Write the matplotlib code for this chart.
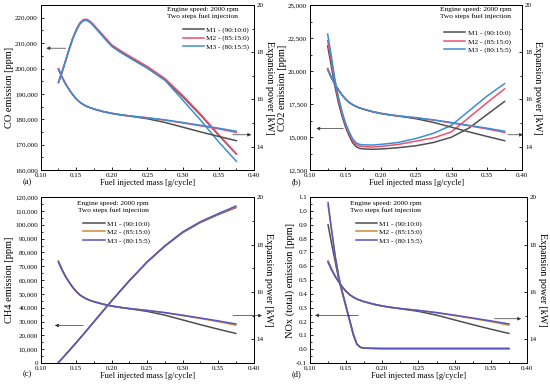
#!/usr/bin/env python3
# Emissions and expansion power vs fuel injected mass, 2000 rpm, two-step injection

import matplotlib
matplotlib.use('Agg')
import matplotlib.pyplot as plt
from matplotlib.ticker import MultipleLocator, FuncFormatter

plt.rcParams['font.family'] = ['Liberation Serif', 'DejaVu Serif']

FUEL_MASS = [0.125, 0.13, 0.135, 0.14, 0.145, 0.15, 0.155, 0.16, 0.165,
             0.17, 0.175, 0.1875, 0.2, 0.2125, 0.225, 0.25, 0.275, 0.3,
             0.325, 0.35, 0.375]

LABELS = ['M1 - (90:10:0)', 'M2 - (85:15:0)', 'M3 - (80:15:5)']
NOTE = 'Engine speed: 2000 rpm\nTwo steps fuel injection'

# expansion power [kW], same engine in every panel
POWER_M1 = [17.3, 16.95, 16.66, 16.42, 16.2, 16.02, 15.88, 15.78, 15.7,
            15.64, 15.59, 15.48, 15.4, 15.34, 15.29, 15.18, 15.02, 14.82,
            14.62, 14.43, 14.25]
POWER_M2 = [17.3, 16.95, 16.66, 16.42, 16.2, 16.02, 15.88, 15.78, 15.7,
            15.64, 15.59, 15.49, 15.41, 15.35, 15.3, 15.22, 15.12, 15.0,
            14.88, 14.75, 14.6]
POWER_M3 = [17.25, 16.92, 16.64, 16.41, 16.2, 16.02, 15.88, 15.78, 15.7,
            15.64, 15.59, 15.49, 15.41, 15.35, 15.3, 15.22, 15.13, 15.02,
            14.9, 14.78, 14.65]

# CO emission [ppm]
CO_M1 = [194500, 198500, 203000, 207500, 211700, 215000, 217600, 218900,
         219000, 218100, 216700, 212700, 208800, 206500, 204400, 200300,
         195600, 188800, 181600, 173800, 166300]
CO_M2 = [194500, 198600, 203200, 207800, 212000, 215400, 218000, 219300,
         219400, 218500, 217100, 213200, 209300, 207000, 204900, 200800,
         196000, 189300, 182000, 174100, 166500]
CO_M3 = [194800, 198700, 203100, 207500, 211700, 215000, 217600, 218900,
         219000, 218100, 216600, 212600, 208700, 206300, 204200, 200100,
         195300, 187500, 179600, 171200, 163500]

# CO2 emission [ppm]
CO2_M1 = [21900, 20400, 18900, 17650, 16650, 15800, 15150, 14600, 14280,
          14150, 14110, 14080, 14100, 14150, 14200, 14350, 14600, 15000,
          15700, 16700, 17700]
CO2_M2 = [22300, 20800, 19200, 17900, 16850, 15950, 15300, 14780, 14450,
          14320, 14290, 14250, 14300, 14370, 14450, 14700, 14950, 15400,
          16500, 17600, 18650]
CO2_M3 = [22800, 21200, 19450, 18100, 17000, 16100, 15450, 14900, 14580,
          14450, 14420, 14400, 14450, 14520, 14600, 14900, 15300, 15900,
          17000, 18100, 19050]

# CH4 emission [ppm]
CH4_M1 = [500, 3200, 6000, 8900, 11800, 14700, 17700, 20700, 23700, 26800,
          29800, 37500, 45000, 52300, 59500, 73000, 84500, 94300, 101600,
          107300, 112400]
CH4_M2 = [500, 3200, 6000, 8900, 11800, 14700, 17700, 20700, 23700, 26800,
          29800, 37500, 45000, 52300, 59500, 73000, 84600, 94500, 101800,
          107500, 112800]
CH4_M3 = [500, 3200, 6000, 8900, 11800, 14700, 17700, 20700, 23700, 26800,
          29800, 37500, 45000, 52400, 59600, 73200, 84800, 94800, 102200,
          108000, 113500]

# NOx (total) emission [ppm]
NOX_M1 = [0.90, 0.76, 0.63, 0.50, 0.40, 0.30, 0.20, 0.10, 0.035, 0.013,
          0.008, 0.006, 0.005, 0.005, 0.005, 0.005, 0.005, 0.005, 0.005,
          0.005, 0.005]
NOX_M2 = [1.04, 0.85, 0.665, 0.515, 0.405, 0.305, 0.205, 0.105, 0.035,
          0.013, 0.008, 0.006, 0.005, 0.005, 0.005, 0.005, 0.005, 0.005,
          0.005, 0.005, 0.005]
NOX_M3 = [1.06, 0.86, 0.67, 0.52, 0.41, 0.31, 0.21, 0.11, 0.035, 0.013,
          0.008, 0.006, 0.005, 0.005, 0.005, 0.005, 0.005, 0.005, 0.005,
          0.005, 0.005]

TOP_COLORS = ['#505050', '#f0506c', '#3a8ed4']
BOTTOM_COLORS = ['#505050', '#d08838', '#5656c2']


def thousands(v, pos):
    return '{:,.0f}'.format(v)


def one_decimal(v, pos):
    return '{:.1f}'.format(v)


def draw_panel(fig, rect, emission, colors, ylim, ystep, fmt, ylabel, tag,
               legend_at, note_at, left_arrow, right_arrow):
    """
    Draws one panel: emission on the left axis, power on the right axis.
    """
    ax = fig.add_axes(rect)
    ax2 = ax.twinx()
    powers = [POWER_M1, POWER_M2, POWER_M3]
    handles = []
    for series, power, color, label in zip(emission, powers, colors, LABELS):
        h, = ax.plot(FUEL_MASS, series, color=color, lw=1.1, label=label)
        ax2.plot(FUEL_MASS, power, color=color, lw=1.1)
        handles.append(h)

    ax.set_xlim(0.10, 0.40)
    ax.set_ylim(*ylim)
    ax2.set_ylim(13, 20)
    ax.xaxis.set_major_locator(MultipleLocator(0.05))
    ax.xaxis.set_minor_locator(MultipleLocator(0.025))
    ax.xaxis.set_major_formatter(FuncFormatter(lambda v, p: '{:.2f}'.format(v)))
    ax.yaxis.set_major_locator(MultipleLocator(ystep))
    ax.yaxis.set_minor_locator(MultipleLocator(ystep / 2))
    ax.yaxis.set_major_formatter(FuncFormatter(fmt))
    ax2.yaxis.set_major_locator(MultipleLocator(2))
    ax2.yaxis.set_minor_locator(MultipleLocator(1))

    for a in (ax, ax2):
        a.tick_params(which='both', direction='in', width=0.6,
                      labelsize=5, pad=2)
        a.tick_params(which='major', length=2.5)
        a.tick_params(which='minor', length=1.5)
        for s in a.spines.values():
            s.set_linewidth(0.7)

    ax.set_xlabel('Fuel injected mass [g/cycle]', fontsize=6, labelpad=1)
    ax.set_ylabel(ylabel, fontsize=7.5, labelpad=1)
    ax2.set_ylabel('Expansion power [kW]', fontsize=7.2, rotation=270,
                   labelpad=7)
    ax.text(-0.085, -0.07, tag, transform=ax.transAxes, fontsize=6,
            ha='left', va='center')

    ax.text(note_at[0], note_at[1], NOTE, transform=ax.transAxes,
            fontsize=5.3, ha='center', va='top', linespacing=1.15)
    ax.legend(handles=handles, loc='upper left', bbox_to_anchor=legend_at,
              frameon=False, fontsize=5.2, handlelength=3.0,
              handletextpad=0.3, labelspacing=0.3, borderpad=0,
              borderaxespad=0)

    arrow = dict(arrowstyle='-|>', color='#333333', lw=0.5,
                 mutation_scale=5, shrinkA=0, shrinkB=0)
    ax.annotate('', xy=(left_arrow[1], left_arrow[2]),
                xytext=(left_arrow[0], left_arrow[2]), arrowprops=arrow)
    ax2.annotate('', xy=(right_arrow[1], right_arrow[2]),
                 xytext=(right_arrow[0], right_arrow[2]),
                 arrowprops=arrow, annotation_clip=False)


def main():
    fig = plt.figure(figsize=(5.5, 3.85), dpi=100)

    draw_panel(fig, [0.074, 0.558, 0.388, 0.429],
               [CO_M1, CO_M2, CO_M3], TOP_COLORS, (160000, 225000), 10000,
               thousands, 'CO emission [ppm]', '(a)',
               (0.665, 0.87), (0.76, 0.985),
               (0.135, 0.108, 208000), (0.37, 0.396, 14.5))

    draw_panel(fig, [0.5636, 0.558, 0.386, 0.429],
               [CO2_M1, CO2_M2, CO2_M3], TOP_COLORS, (12500, 25000), 2500,
               thousands, 'CO2 emission [ppm]', '(b)',
               (0.63, 0.85), (0.78, 0.985),
               (0.147, 0.109, 15650), (0.38, 0.401, 14.5))

    draw_panel(fig, [0.074, 0.057, 0.387, 0.431],
               [CH4_M1, CH4_M2, CH4_M3], BOTTOM_COLORS, (0, 120000), 10000,
               thousands, 'CH4 emission [ppm]', '(c)',
               (0.2, 0.86), (0.34, 0.975),
               (0.16, 0.12, 27200), (0.371, 0.412, 15.0))

    draw_panel(fig, [0.5636, 0.057, 0.3945, 0.431],
               [NOX_M1, NOX_M2, NOX_M3], BOTTOM_COLORS, (-0.1, 1.1), 0.1,
               one_decimal, 'NOx (total) emission [ppm]', '(d)',
               (0.21, 0.86), (0.35, 0.975),
               (0.167, 0.107, 0.245), (0.355, 0.392, 14.87))

    fig.savefig('out.png', dpi=100)


if __name__ == '__main__':
    main()
